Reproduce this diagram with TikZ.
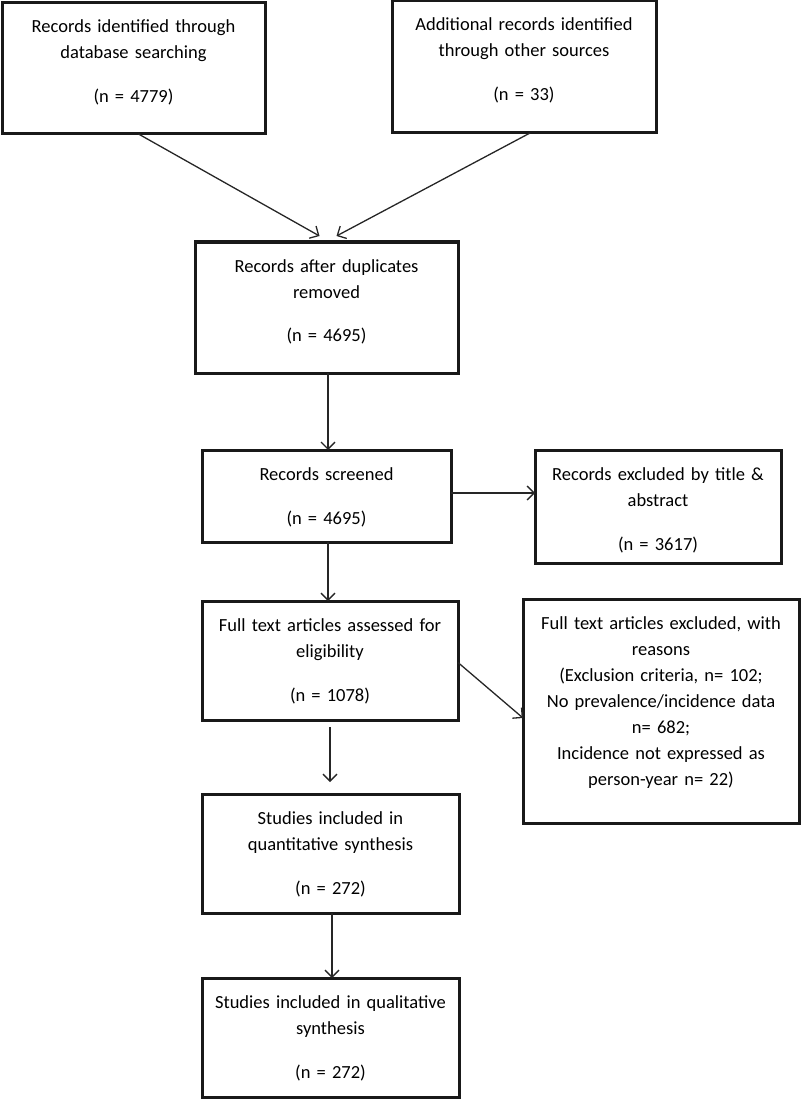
\documentclass[tikz,border=0pt]{standalone}
\usepackage{fontspec}
\setmainfont{Carlito}
\usepackage{tikz}
\usetikzlibrary{arrows.meta}

\begin{document}
\begin{tikzpicture}[x = 1pt, y = -1pt]
        \tikzset{box/.style = {draw, line width = 3pt, draw = black!90, inner sep = 0pt, outer sep = 0pt, align = center, anchor = north west, text height = 30pt, font = \fontsize{18.5}{26}\selectfont}}
        \tikzset{edge/.style = {->, > = {Straight Barb[length = 7pt, width = 14pt]}, line width = 1.3pt, draw = black!85}}
        \useasboundingbox (0,0) rectangle (800,1099);
        % boxes
        \node[box, text width = 263pt, text depth = 101pt] (db) at (2,3) {Records identified through\\ database searching\\[18pt] (n = 4779)};
        \node[box, text width = 264pt, text depth = 102pt] (other) at (392,1) {Additional records identified\\ through other sources\\[18pt] (n = 33)};
        \node[box, text width = 263pt, text depth = 101pt] (dup) at (195,242) {Records after duplicates\\ removed\\[18pt] (n = 4695)};
        \node[box, text width = 249pt, text depth = 62pt] (screen) at (202,450) {Records screened\\[18pt] (n = 4695)};
        \node[box, text width = 246pt, text depth = 83pt] (excl) at (535,450) {Records excluded by title \&\\ abstract\\[18pt] (n = 3617)};
        \node[box, text width = 256pt, text depth = 89pt] (full) at (202,601) {Full text articles assessed for\\ eligibility\\[18pt] (n = 1078)};
        \node[box, text width = 276pt, text depth = 194pt] (reasons) at (523,599) {Full text articles excluded, with\\ reasons\\ (Exclusion criteria, n= 102;\\ No prevalence/incidence data\\ n= 682;\\ Incidence not expressed as\\ person-year n= 22)};
        \node[box, text width = 257pt, text depth = 89pt] (quant) at (202,794) {Studies included in\\ quantitative synthesis\\[18pt] (n = 272)};
        \node[box, text width = 257pt, text depth = 89pt] (qual) at (202,978) {Studies included in qualitative\\ synthesis\\[18pt] (n = 272)};

        % edges
        \draw[edge] ([xshift = 5pt]db.south) to ([xshift = -7pt, yshift = 6pt]dup.north);
        \draw[edge] ([xshift = 6pt]other.south) to ([xshift = 10pt, yshift = 6pt]dup.north);
        \draw[edge] ([xshift = 1.5pt]dup.south) to ([xshift = 1.5pt]dup.south |- screen.north);
        \draw[edge] ([yshift = 3pt]screen.east) to ([yshift = 3pt]screen.east -| excl.west);
        \draw[edge] ([xshift = 1.5pt]screen.south) to ([xshift = 1.5pt]screen.south |- full.north);
        \draw[edge] ([yshift = -2pt]full.east) to ([yshift = -7pt]reasons.west);
        \draw[edge] ([yshift = -7pt]full.south) to ([yshift = 12pt]full.south |- quant.north);
        \draw[edge] ([xshift = 1.5pt]quant.south) to ([xshift = 1.5pt]quant.south |- qual.north);
\end{tikzpicture}
\end{document}
